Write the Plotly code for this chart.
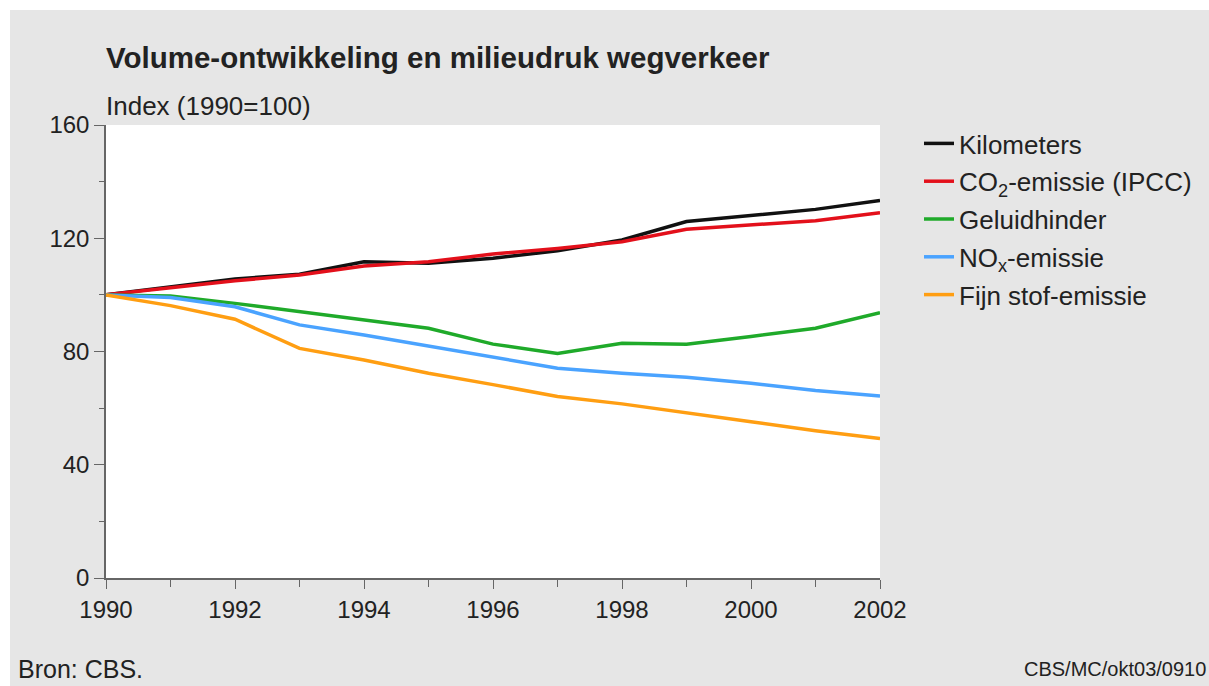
import plotly.graph_objects as go

years = list(range(1990, 2003))
kilometers = [100, 102.9, 105.6, 107.3, 111.7, 111.2, 112.9, 115.6, 119.4, 125.9, 128.2, 130.2, 133.3]
co2 = [100, 102.6, 105.0, 107.0, 110.2, 111.7, 114.4, 116.4, 118.8, 123.2, 124.7, 126.2, 129.0]
geluid = [100, 99.6, 97.0, 94.1, 91.4, 88.2, 82.6, 79.3, 82.9, 82.6, 85.3, 88.2, 93.7]
nox = [100, 99.1, 95.8, 89.4, 85.8, 81.9, 77.8, 74.1, 72.3, 70.9, 68.8, 66.2, 64.3]
fijnstof = [100, 96.2, 91.4, 81.1, 77.0, 72.3, 68.3, 64.1, 61.5, 58.2, 55.2, 52.0, 49.3]

names = ["Kilometers", "CO<sub>2</sub>-emissie (IPCC)", "Geluidhinder",
         "NO<sub>x</sub>-emissie", "Fijn stof-emissie"]
series = [kilometers, co2, geluid, nox, fijnstof]
colors = ["#111111", "#e3101b", "#1faa2a", "#4aa3ff", "#ff9e12"]

x_major = list(range(1990, 2003, 2))
y_major = list(range(0, 161, 40))

W, H = 1209, 686
L, R, T, B = 106, 880, 125, 578

fig = go.Figure()
for i, (n, s, c) in enumerate(zip(names, series, colors)):
    fig.add_trace(go.Scatter(x=years, y=s, mode="lines", name=n,
                             line=dict(color=c, width=3.5), legendgroup=str(i)))

def px(xp):
    return (xp - L) / (R - L)

def py(yp):
    return (B - yp) / (B - T)

font = "Liberation Sans, Arial, sans-serif"
txt = "#222222"
axc = "#666666"

fig.update_layout(
    width=W, height=H,
    margin=dict(l=L, r=W - R, t=T, b=H - B, pad=0),
    paper_bgcolor="#e6e6e6",
    plot_bgcolor="#ffffff",
    font=dict(family=font, size=24, color=txt),
    showlegend=True,
    legend=dict(x=px(919), y=py(120), xanchor="left", yanchor="top",
                bgcolor="rgba(0,0,0,0)", font=dict(size=26, color=txt),
                tracegroupgap=1, traceorder="grouped"),
    xaxis=dict(range=[1990, 2002], tickvals=x_major, ticktext=[str(v) for v in x_major],
               showgrid=False, zeroline=False, showline=True, linecolor=axc,
               linewidth=1.5, ticks="outside", ticklen=9, tickcolor=axc,
               minor=dict(dtick=1, ticks="outside", ticklen=7, tickcolor=axc, showgrid=False),
               tickfont=dict(size=24, color=txt)),
    yaxis=dict(range=[0, 160], tickvals=y_major, ticktext=[str(v) for v in y_major],
               showgrid=False, zeroline=False, showline=True, linecolor=axc,
               linewidth=1.5, ticks="outside", ticklen=10, tickcolor=axc,
               minor=dict(dtick=20, ticks="outside", ticklen=5, tickcolor=axc, showgrid=False),
               tickfont=dict(size=24, color=txt)),
    shapes=[
        dict(type="rect", xref="paper", yref="paper", x0=px(0), x1=px(W), y0=py(10), y1=py(0),
             fillcolor="#ffffff", line=dict(width=0), layer="below"),
        dict(type="rect", xref="paper", yref="paper", x0=px(0), x1=px(10), y0=py(H), y1=py(0),
             fillcolor="#ffffff", line=dict(width=0), layer="below"),
    ],
    annotations=[
        dict(text="<b>Volume-ontwikkeling en milieudruk wegverkeer</b>", xref="paper", yref="paper",
             x=px(104), y=py(58), xanchor="left", yanchor="middle", showarrow=False,
             font=dict(size=29.5, color=txt)),
        dict(text="Index (1990=100)", xref="paper", yref="paper",
             x=px(104), y=py(106), xanchor="left", yanchor="middle", showarrow=False,
             font=dict(size=26, color=txt)),
        dict(text="Bron: CBS.", xref="paper", yref="paper",
             x=px(16), y=py(669), xanchor="left", yanchor="middle", showarrow=False,
             font=dict(size=25, color=txt)),
        dict(text="CBS/MC/okt03/0910", xref="paper", yref="paper",
             x=px(1022), y=py(669), xanchor="left", yanchor="middle", showarrow=False,
             font=dict(size=20, color=txt)),
    ],
)

fig.write_html("out.html", config={"displayModeBar": False},
               post_script="document.body.style.margin='0';document.body.style.overflow='hidden';")
